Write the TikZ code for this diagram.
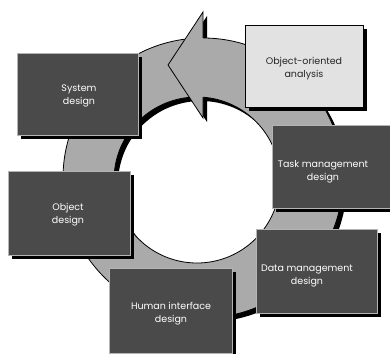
\documentclass[tikz,border=0pt]{standalone}
\usepackage{fontspec}
\setmainfont{Poppins}
\usetikzlibrary{shadows}
\definecolor{ringgray}{HTML}{AAAAAA}
\definecolor{boxgray}{HTML}{4A4A4A}
\definecolor{boxedge}{HTML}{B4B4B4}
\definecolor{lightbox}{HTML}{E2E2E2}
\begin{document}
\begin{tikzpicture}[x=1pt,y=-1pt,
  shade/.style={general shadow={fill=black, shadow xshift=4pt, shadow yshift=-4pt}},
  darkbox/.style={shade, rectangle, fill=boxgray, draw=boxedge, line width=0.6pt, inner sep=0pt},
  lightstage/.style={shade, rectangle, fill=lightbox, draw=black, line width=0.8pt, inner sep=0pt},
  stagetext/.style={align=center, text=white, font=\fontsize{9.5}{13}\selectfont},
  darktext/.style={align=center, text=black!85, font=\fontsize{9.5}{13}\selectfont},
  ringline/.style={draw=black, line width=0.8pt}]
\useasboundingbox (0,0) rectangle (390,353);

% shadow of the cycle ring and of the arrow head
\fill[black, even odd rule, shift={(4,4)}]
  (203,178) circle[radius=140] (197,180) circle[radius=83];
\fill[black, shift={(4,4)}] (203,12) -- (168,65) -- (203,118) -- cycle;

% the cycle ring
\filldraw[fill=ringgray, ringline, even odd rule]
  (203,178) circle[radius=140] (197,180) circle[radius=83];

% arrow head on top of the ring, pointing left
\coordinate (headtop) at (203,12);
\coordinate (headtip) at (168,65);
\coordinate (headbot) at (203,118);
\coordinate (outerjoin) at (203,38);
\coordinate (innerjoin) at (203,97.2);
\fill[ringgray] (headtop) -- (headtip) -- (headbot) -- cycle;
\draw[ringline, line join=miter] (outerjoin) -- (headtop) -- (headtip) -- (headbot) -- (innerjoin);

% stage boxes
\node[lightstage, minimum width=118pt, minimum height=82pt] (ooa) at (304,66) {};
\node[darkbox, minimum width=121pt, minimum height=82pt] (sys) at (77.5,94) {};
\node[darkbox, minimum width=120pt, minimum height=83pt] (task) at (332,166.5) {};
\node[darkbox, minimum width=122pt, minimum height=84pt] (obj) at (69,213) {};
\node[darkbox, minimum width=121pt, minimum height=84pt] (data) at (316.5,271) {};
\node[darkbox, minimum width=123pt, minimum height=85pt] (hum) at (170.5,310.5) {};

% stage labels
\node[darktext] (ooa-t) at (304,69) {Object-oriented\\analysis};
\node[stagetext] (sys-t) at (79,96) {System\\design};
\node[stagetext] (task-t) at (323,172) {Task management\\design};
\node[stagetext] (obj-t) at (68,215) {Object\\design};
\node[stagetext] (data-t) at (307,276) {Data management\\design};
\node[stagetext] (hum-t) at (171,314) {Human interface\\design};
\end{tikzpicture}
\end{document}
